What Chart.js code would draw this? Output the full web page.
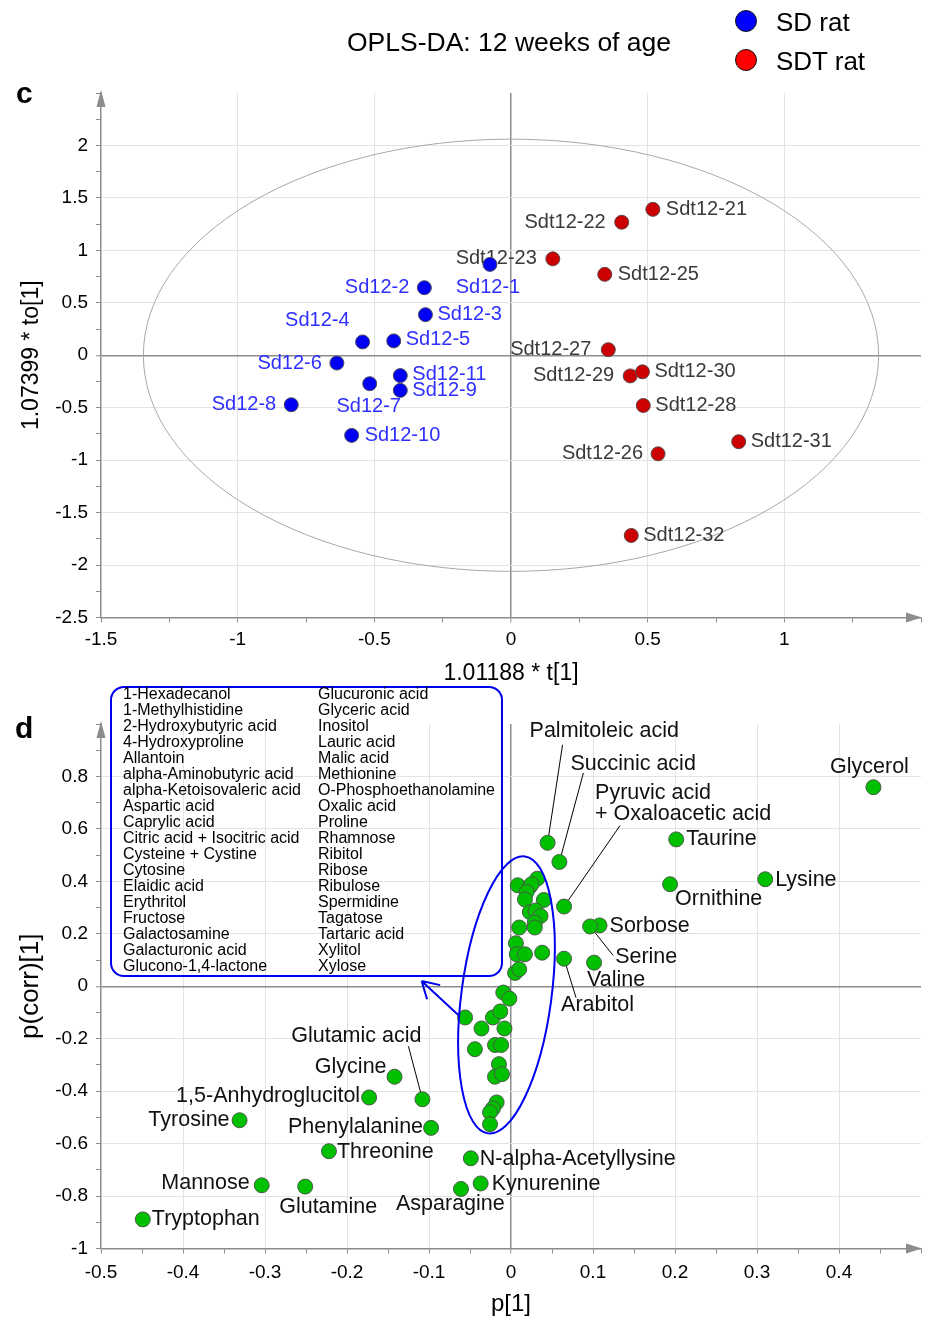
<!DOCTYPE html>
<html>
<head>
<meta charset="utf-8">
<script src="https://cdn.jsdelivr.net/npm/chart.js@4.4.1/dist/chart.umd.min.js"></script>
<style>
  body { margin: 0; background: #fff; font-family: "Liberation Sans", Arial, sans-serif; }
  #page { position: relative; width: 925px; height: 1319px; overflow: hidden; }
  canvas { position: absolute; left: 0; }
  #scoreCanvas { top: 0; }
  #loadingCanvas { top: 676px; }
  .txt { position: absolute; white-space: nowrap; line-height: 1; color: #000; }
  .dot { position: absolute; width: 22px; height: 22px; border-radius: 50%; border: 1.5px solid #111; box-sizing: border-box; }
  #nameBox { position: absolute; left: 110px; top: 686px; width: 393px; height: 291px; box-sizing: border-box;
             border: 2px solid #0000f0; border-radius: 14px; pointer-events: none; }
  .col { position: absolute; top: 686px; font-size: 16px; line-height: 16px; white-space: nowrap; color: #000; }
</style>
</head>
<body>
<div id="page">
  <canvas id="scoreCanvas" width="925" height="700"></canvas>
  <canvas id="loadingCanvas" width="925" height="643"></canvas>

  <div class="txt" style="left:16px; top:78px; font-size:30px; font-weight:bold;">c</div>
  <div class="txt" style="left:15px; top:713px; font-size:30px; font-weight:bold;">d</div>
  <div class="txt" style="left:347px; top:29px; font-size:26.5px;">OPLS-DA: 12 weeks of age</div>
  <div class="dot" style="left:735px; top:10px; background:#0000ff;"></div>
  <div class="txt" style="left:776px; top:9px; font-size:26px;">SD rat</div>
  <div class="dot" style="left:735px; top:49px; background:#ff0000;"></div>
  <div class="txt" style="left:776px; top:48px; font-size:26px;">SDT rat</div>

  <div id="nameBox"></div>
  <div class="col" id="colLeft" style="left:123px;"></div>
  <div class="col" id="colRight" style="left:318px;"></div>
</div>

<script>
// ---- panel c: OPLS-DA scores ----
const sdNames = ['Sd12-1', 'Sd12-2', 'Sd12-3', 'Sd12-4', 'Sd12-5', 'Sd12-6', 'Sd12-7', 'Sd12-8', 'Sd12-9', 'Sd12-10', 'Sd12-11'];
const sdX = [-0.077, -0.317, -0.313, -0.543, -0.429, -0.637, -0.517, -0.804, -0.405, -0.583, -0.405];
const sdY = [0.866, 0.644, 0.387, 0.127, 0.137, -0.074, -0.271, -0.472, -0.335, -0.764, -0.194];

const sdtNames = ['Sdt12-21', 'Sdt12-22', 'Sdt12-23', 'Sdt12-25', 'Sdt12-26', 'Sdt12-27', 'Sdt12-28', 'Sdt12-29', 'Sdt12-30', 'Sdt12-31', 'Sdt12-32'];
const sdtX = [0.519, 0.405, 0.153, 0.343, 0.538, 0.356, 0.484, 0.436, 0.481, 0.833, 0.440];
const sdtY = [1.391, 1.268, 0.919, 0.771, -0.940, 0.053, -0.479, -0.197, -0.158, -0.824, -1.718];

// Hotelling T2 ellipse half-axes (t, to)
const t2Radius = [1.345, 2.06];

// ---- panel d: S-plot loadings ----
const metNames = ['Glycerol', 'Palmitoleic acid', 'Succinic acid', 'Pyruvic acid\n+ Oxaloacetic acid', 'Taurine', 'Lysine',
  'Ornithine', 'Sorbose', 'Serine', 'Valine', 'Arabitol', 'Glutamic acid', 'Glycine', '1,5-Anhydroglucitol', 'Tyrosine',
  'Phenylalanine', 'Threonine', 'N-alpha-Acetyllysine', 'Kynurenine', 'Mannose', 'Glutamine', 'Asparagine', 'Tryptophan'];
const metX = [0.442, 0.0446, 0.059, 0.0647, 0.2015, 0.310, 0.194, 0.108, 0.0965, 0.1013, 0.0647, -0.108, -0.142, -0.173, -0.331,
  -0.0975, -0.222, -0.049, -0.037, -0.304, -0.251, -0.061, -0.449];
const metY = [0.759, 0.547, 0.474, 0.304, 0.560, 0.408, 0.389, 0.232, 0.228, 0.090, 0.105, -0.431, -0.345, -0.424, -0.511,
  -0.540, -0.629, -0.656, -0.752, -0.759, -0.764, -0.773, -0.889];

// the unlabeled metabolites inside the blue ellipse
const otherX = [0.0082, 0.023, 0.032, 0.025, 0.019, 0.017, 0.040, 0.023, 0.030, 0.036, 0.029, 0.029, 0.010, 0.006, 0.007, 0.017, 0.038, 0.005, 0.010,
  -0.0094, -0.002, -0.056, -0.036, -0.022, -0.013, -0.008, -0.044, -0.0195, -0.012, -0.0147, -0.0195, -0.011, -0.0175, -0.022, -0.0256, -0.0256];
const otherY = [0.385, 0.380, 0.410, 0.389, 0.359, 0.331, 0.329, 0.283, 0.289, 0.268, 0.243, 0.224, 0.224, 0.164, 0.122, 0.122, 0.128, 0.051, 0.065,
  -0.024, -0.047, -0.119, -0.161, -0.119, -0.096, -0.161, -0.240, -0.224, -0.224, -0.297, -0.345, -0.335, -0.443, -0.466, -0.481, -0.526];

const boxNamesLeft = ['1-Hexadecanol', '1-Methylhistidine', '2-Hydroxybutyric acid', '4-Hydroxyproline', 'Allantoin',
  'alpha-Aminobutyric acid', 'alpha-Ketoisovaleric acid', 'Aspartic acid', 'Caprylic acid', 'Citric acid + Isocitric acid',
  'Cysteine + Cystine', 'Cytosine', 'Elaidic acid', 'Erythritol', 'Fructose', 'Galactosamine', 'Galacturonic acid', 'Glucono-1,4-lactone'];
const boxNamesRight = ['Glucuronic acid', 'Glyceric acid', 'Inositol', 'Lauric acid', 'Malic acid', 'Methionine',
  'O-Phosphoethanolamine', 'Oxalic acid', 'Proline', 'Rhamnose', 'Ribitol', 'Ribose', 'Ribulose', 'Spermidine', 'Tagatose',
  'Tartaric acid', 'Xylitol', 'Xylose'];

// blue ellipse around the unlabeled group (ends of long axis) and arrow to the list
const groupEllipseEnds = [[0.017, 0.495], [-0.028, -0.561]];
const groupArrow = [[-0.0643, -0.110], [-0.109, 0.020]];

// label placement: [dx, dy, align, leader start offset]
const scoreLabelPos = {
  'Sd12-1': [-2, 23, 'center'], 'Sd12-2': [-15, 0, 'right'], 'Sd12-3': [12, 0, 'left'],
  'Sd12-4': [-13, -21, 'right'], 'Sd12-5': [12, -1, 'left'], 'Sd12-6': [-15, 0, 'right'],
  'Sd12-7': [-1, 23, 'center'], 'Sd12-8': [-15, 0, 'right'], 'Sd12-9': [12, 0, 'left'],
  'Sd12-10': [13, 0, 'left'], 'Sd12-11': [12, -1, 'left'],
  'Sdt12-21': [13, 0, 'left'], 'Sdt12-22': [-16, 0, 'right'], 'Sdt12-23': [-16, 0, 'right'],
  'Sdt12-25': [13, 0, 'left'], 'Sdt12-26': [-15, 0, 'right'], 'Sdt12-27': [-17, 0, 'right'],
  'Sdt12-28': [12, 0, 'left'], 'Sdt12-29': [-16, 0, 'right'], 'Sdt12-30': [12, 0, 'left'],
  'Sdt12-31': [12, 0, 'left'], 'Sdt12-32': [12, 0, 'left']
};
const loadingLabelPos = {
  'Glycerol': [-4, -20, 'center'],
  'Palmitoleic acid': [-18, -112, 'left', [15, -98]],
  'Succinic acid': [11, -98, 'left', [24, -89]],
  'Pyruvic acid\n+ Oxaloacetic acid': [31, -113, 'left', [56, -81]],
  'Taurine': [10, 0, 'left'], 'Lysine': [10, 1, 'left'], 'Ornithine': [5, 15, 'left'],
  'Sorbose': [10, 1, 'left'],
  'Serine': [25, 31, 'left', [23, 29]],
  'Valine': [-7, 17, 'left'],
  'Arabitol': [-3, 46, 'left', [12, 39]],
  'Glutamic acid': [-1, -63, 'right', [-14, -53]],
  'Glycine': [-8, -10, 'right'], '1,5-Anhydroglucitol': [-9, -1, 'right'], 'Tyrosine': [-10, 0, 'right'],
  'Phenylalanine': [-8, -1, 'right'], 'Threonine': [8, 1, 'left'], 'N-alpha-Acetyllysine': [9, 1, 'left'],
  'Kynurenine': [11, 1, 'left'], 'Mannose': [-12, -2, 'right'], 'Glutamine': [-26, 20, 'left'],
  'Asparagine': [-65, 15, 'left'], 'Tryptophan': [9, 0, 'left']
};

document.getElementById('colLeft').innerHTML = boxNamesLeft.join('<br>');
document.getElementById('colRight').innerHTML = boxNamesRight.join('<br>');

Chart.defaults.font.family = '"Liberation Sans", Arial, sans-serif';
const axisGrey = '#8c8c8c';
const clear = 'rgba(0,0,0,0)';
const isStep = (v, s) => Math.abs(v / s - Math.round(v / s)) < 1e-6;

function tickLabel(major) {
  return (v, i, ticks) => (i === ticks.length - 1 || !isStep(v, major)) ? '' : String(Math.round(v * 100) / 100);
}

function makeAxis(min, max, minor, major, pad, title, fit) {
  return {
    type: 'linear', min, max,
    border: { display: true, color: axisGrey, width: 1.5 },
    grid: {
      color: c => {
        if (!c.tick) return clear;
        const n = c.scale.ticks.length;
        if (c.index === 0 || c.index === n - 1) return clear;
        if (Math.abs(c.tick.value) < 1e-9) return axisGrey;
        return isStep(c.tick.value, major) ? '#e3e3e3' : clear;
      },
      lineWidth: c => (c.tick && Math.abs(c.tick.value) < 1e-9 ? 1.5 : 1),
      tickColor: axisGrey, tickLength: 5, tickWidth: 1
    },
    ticks: { stepSize: minor, autoSkip: false, maxRotation: 0, padding: pad, color: '#000', font: { size: 19 }, callback: tickLabel(major) },
    title: { display: true, text: title.text, color: '#000', font: { size: title.size }, padding: title.padding },
    afterFit: s => {
      fit(s);
      s.paddingLeft = 0; s.paddingRight = 0; s.paddingTop = 0; s.paddingBottom = 0;
    }
  };
}

const pointLabels = {
  id: 'pointLabels',
  beforeDatasetsDraw(chart, args, o) {
    const ctx = chart.ctx;
    ctx.save();
    chart.data.datasets.forEach((ds, di) => {
      if (!ds.names) return;
      chart.getDatasetMeta(di).data.forEach((pt, i) => {
        const lay = o.layout[ds.names[i]];
        if (!lay) return;
        if (lay[3]) {
          ctx.strokeStyle = '#000';
          ctx.lineWidth = 1;
          ctx.beginPath();
          ctx.moveTo(pt.x + lay[3][0], pt.y + lay[3][1]);
          ctx.lineTo(pt.x, pt.y);
          ctx.stroke();
        }
        ctx.fillStyle = ds.labelColor;
        ctx.font = o.size + 'px "Liberation Sans", Arial, sans-serif';
        ctx.textAlign = lay[2];
        ctx.textBaseline = 'middle';
        ds.names[i].split('\n').forEach((line, k) => {
          ctx.fillText(line, pt.x + lay[0], pt.y + lay[1] + k * o.lineStep);
        });
      });
    });
    ctx.restore();
  }
};

const axisArrows = {
  id: 'axisArrows',
  afterDraw(chart) {
    const { ctx, chartArea: a } = chart;
    ctx.save();
    ctx.fillStyle = axisGrey;
    ctx.beginPath();
    ctx.moveTo(a.left, a.top - 3); ctx.lineTo(a.left - 4.5, a.top + 14); ctx.lineTo(a.left + 4.5, a.top + 14);
    ctx.fill();
    ctx.beginPath();
    ctx.moveTo(a.right + 1, a.bottom); ctx.lineTo(a.right - 15, a.bottom - 5); ctx.lineTo(a.right - 15, a.bottom + 5);
    ctx.fill();
    ctx.restore();
  }
};

const t2Ellipse = {
  id: 't2Ellipse',
  beforeDatasetsDraw(chart) {
    const { ctx, scales: { x, y } } = chart;
    const cx = x.getPixelForValue(0), cy = y.getPixelForValue(0);
    ctx.save();
    ctx.strokeStyle = '#a8a8a8';
    ctx.lineWidth = 1;
    ctx.beginPath();
    ctx.ellipse(cx, cy, x.getPixelForValue(t2Radius[0]) - cx, cy - y.getPixelForValue(t2Radius[1]), 0, 0, Math.PI * 2);
    ctx.stroke();
    ctx.restore();
  }
};

const groupMarks = {
  id: 'groupMarks',
  afterDatasetsDraw(chart) {
    const { ctx, scales: { x, y } } = chart;
    const px = p => [x.getPixelForValue(p[0]), y.getPixelForValue(p[1])];
    const [p1, p2] = groupEllipseEnds.map(px);
    const ang = Math.atan2(p2[1] - p1[1], p2[0] - p1[0]);
    const half = Math.hypot(p2[0] - p1[0], p2[1] - p1[1]) / 2;
    ctx.save();
    ctx.strokeStyle = '#0000f0';
    ctx.lineWidth = 2;
    ctx.beginPath();
    ctx.ellipse((p1[0] + p2[0]) / 2, (p1[1] + p2[1]) / 2, half, 45, ang, 0, Math.PI * 2);
    ctx.stroke();
    const [s, t] = groupArrow.map(px);
    const back = Math.atan2(s[1] - t[1], s[0] - t[0]);
    ctx.beginPath();
    ctx.moveTo(s[0], s[1]); ctx.lineTo(t[0], t[1]);
    [-0.53, 0.53].forEach(d => {
      ctx.moveTo(t[0], t[1]);
      ctx.lineTo(t[0] + 19 * Math.cos(back + d), t[1] + 19 * Math.sin(back + d));
    });
    ctx.stroke();
    ctx.restore();
  }
};

const toPoints = (xs, ys) => xs.map((v, i) => ({ x: v, y: ys[i] }));

new Chart(document.getElementById('scoreCanvas'), {
  type: 'scatter',
  data: {
    datasets: [
      { label: 'SD rat', data: toPoints(sdX, sdY), names: sdNames, labelColor: '#2f2fff',
        backgroundColor: '#0000f5', borderColor: '#4a4a5a', borderWidth: 1, pointRadius: 7 },
      { label: 'SDT rat', data: toPoints(sdtX, sdtY), names: sdtNames, labelColor: '#3a3a3a',
        backgroundColor: '#cc0000', borderColor: '#5a4a4a', borderWidth: 1, pointRadius: 7 }
    ]
  },
  options: {
    responsive: false, animation: false,
    layout: { autoPadding: false, padding: { top: 93, right: 4, left: 0, bottom: 0 } },
    plugins: {
      legend: { display: false }, tooltip: { enabled: false },
      pointLabels: { layout: scoreLabelPos, size: 20, lineStep: 20 }
    },
    scales: {
      x: makeAxis(-1.5, 1.5, 0.25, 0.5, 6, { text: '1.01188 * t[1]', size: 23, padding: { top: 0, bottom: 13 } },
        s => { s.height = 82.5; }),
      y: makeAxis(-2.5, 2.5, 0.25, 0.5, 8, { text: '1.07399 * to[1]', size: 23, padding: { top: 18, bottom: 0 } },
        s => { s.width = 101; })
    }
  },
  plugins: [t2Ellipse, pointLabels, axisArrows]
});

new Chart(document.getElementById('loadingCanvas'), {
  type: 'scatter',
  data: {
    datasets: [
      { label: 'other', data: toPoints(otherX, otherY),
        backgroundColor: '#00c000', borderColor: '#4a5a4a', borderWidth: 1, pointRadius: 7.5 },
      { label: 'labeled', data: toPoints(metX, metY), names: metNames, labelColor: '#111',
        backgroundColor: '#00c000', borderColor: '#4a5a4a', borderWidth: 1, pointRadius: 7.5 }
    ]
  },
  options: {
    responsive: false, animation: false,
    layout: { autoPadding: false, padding: { top: 48, right: 4, left: 0, bottom: 0 } },
    plugins: {
      legend: { display: false }, tooltip: { enabled: false },
      pointLabels: { layout: loadingLabelPos, size: 21.5, lineStep: 21 }
    },
    scales: {
      x: makeAxis(-0.5, 0.5, 0.05, 0.1, 8, { text: 'p[1]', size: 24, padding: { top: 0, bottom: 0 } },
        s => { s.height = 70.5; }),
      y: makeAxis(-1, 1, 0.1, 0.2, 8, { text: 'p(corr)[1]', size: 26, padding: { top: 15, bottom: 0 } },
        s => { s.width = 101; })
    }
  },
  plugins: [pointLabels, groupMarks, axisArrows]
});
</script>
</body>
</html>
